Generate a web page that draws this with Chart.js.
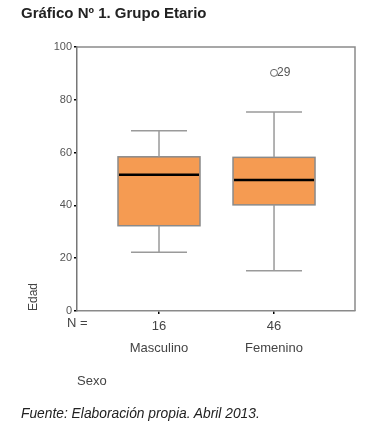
<!DOCTYPE html>
<html>
<head>
<meta charset="utf-8">
<script src="https://cdn.jsdelivr.net/npm/chart.js@4/dist/chart.umd.min.js"></script>
<style>
  html, body { margin: 0; padding: 0; background: #fff; }
  #wrap { position: relative; width: 378px; height: 427px; }
  #c { position: absolute; left: 0; top: 0; }
  #title { position: absolute; left: 21px; top: 4px; font: bold 15px "Liberation Sans", Arial, sans-serif; color: #222; white-space: nowrap; }
  #foot { position: absolute; left: 21px; top: 406px; font: italic 13.8px "Liberation Sans", Arial, sans-serif; color: #222; white-space: nowrap; }
</style>
</head>
<body>
<div id="wrap">
  <canvas id="c" width="378" height="427"></canvas>
  <div id="title">Gráfico Nº 1. Grupo Etario</div>
  <div id="foot">Fuente: Elaboración propia. Abril 2013.</div>
</div>
<script>
const categories = ['Masculino', 'Femenino'];
const counts = ['16', '46'];
const whiskerLow = [22.3, 15.2];
const q1 = [32.3, 40.2];
const median = [51.6, 49.6];
const q3 = [58.4, 58.2];
const whiskerHigh = [68.3, 75.4];
const outlierCat = [2];
const outlierVal = [90.2];
const outlierLabel = ['29'];
const yTicks = [0, 20, 40, 60, 80, 100];

const FONT = '"Liberation Sans", Arial, sans-serif';
const GRAY = '#8a8a8a';

const boxPlugin = {
  id: 'boxExtras',
  afterDatasetsDraw(chart) {
    const ctx = chart.ctx;
    const xs = chart.scales.x, ys = chart.scales.y;
    const ca = chart.chartArea;
    ctx.save();
    // frame top & right
    ctx.strokeStyle = GRAY;
    ctx.lineWidth = 1.5;
    ctx.beginPath();
    ctx.moveTo(ca.left, ca.top);
    ctx.lineTo(ca.right, ca.top);
    ctx.lineTo(ca.right, ca.bottom);
    ctx.stroke();
    const boxHalf = 41, capHalf = 28;
    categories.forEach((c, i) => {
      const x = xs.getPixelForValue(i + 1);
      const yl = ys.getPixelForValue(whiskerLow[i]);
      const yq1 = ys.getPixelForValue(q1[i]);
      const yq3 = ys.getPixelForValue(q3[i]);
      const yh = ys.getPixelForValue(whiskerHigh[i]);
      const ym = ys.getPixelForValue(median[i]);
      // box
      ctx.fillStyle = '#f59b52';
      ctx.fillRect(x - boxHalf, yq3, boxHalf * 2, yq1 - yq3);
      ctx.strokeStyle = GRAY;
      ctx.lineWidth = 1.5;
      ctx.strokeRect(x - boxHalf, yq3, boxHalf * 2, yq1 - yq3);
      // whiskers
      ctx.strokeStyle = '#9a9a9a';
      ctx.lineWidth = 1.5;
      ctx.beginPath();
      ctx.moveTo(x, yq3); ctx.lineTo(x, yh);
      ctx.moveTo(x - capHalf, yh); ctx.lineTo(x + capHalf, yh);
      ctx.moveTo(x, yq1); ctx.lineTo(x, yl);
      ctx.moveTo(x - capHalf, yl); ctx.lineTo(x + capHalf, yl);
      ctx.stroke();
      // median
      ctx.strokeStyle = '#000';
      ctx.lineWidth = 2.5;
      ctx.beginPath();
      ctx.moveTo(x - boxHalf + 1, ym); ctx.lineTo(x + boxHalf - 1, ym);
      ctx.stroke();
    });
    // outlier labels
    ctx.fillStyle = '#555';
    ctx.font = '12px ' + FONT;
    ctx.textBaseline = 'middle';
    ctx.textAlign = 'left';
    outlierVal.forEach((v, i) => {
      const x = xs.getPixelForValue(outlierCat[i]);
      const y = ys.getPixelForValue(v);
      ctx.fillText(outlierLabel[i], x + 3, y);
    });
    // "N =" label
    ctx.fillStyle = '#444';
    ctx.font = '13px ' + FONT;
    ctx.textBaseline = 'middle';
    ctx.textAlign = 'left';
    ctx.fillText('N =', 67, ca.bottom + 12);
    ctx.restore();
  }
};

new Chart(document.getElementById('c'), {
  type: 'scatter',
  data: {
    datasets: [
      {
        data: outlierVal.map((v, i) => ({ x: outlierCat[i], y: v })),
        pointStyle: 'circle',
        pointRadius: 3.5,
        pointBackgroundColor: 'rgba(0,0,0,0)',
        pointBorderColor: '#666',
        pointBorderWidth: 1
      }
    ]
  },
  options: {
    responsive: false,
    animation: false,
    events: [],
    layout: { padding: { left: 0, top: 47, right: 23, bottom: 0 } },
    plugins: { legend: { display: false }, tooltip: { enabled: false }, title: { display: false } },
    scales: {
      x: {
        type: 'linear',
        min: 0.287,
        max: 2.704,
        offset: false,
        afterBuildTicks(scale) { scale.ticks = categories.map((c, i) => ({ value: i + 1 })); },
        afterFit(scale) { scale.height = 427 - 47 - 264; },
        grid: { drawOnChartArea: false, drawTicks: true, tickLength: 3, color: '#000', lineWidth: 1.5, offset: false },
        border: { color: GRAY, width: 1.5 },
        ticks: {
          autoSkip: false,
          maxRotation: 0,
          padding: 1,
          color: '#444',
          font: { family: FONT, size: 13, lineHeight: 1.7 },
          callback(v) { const i = Math.round(v) - 1; return [counts[i], categories[i]]; }
        },
        title: {
          display: true,
          text: 'Sexo',
          align: 'start',
          color: '#444',
          font: { family: FONT, size: 13 },
          padding: { top: 0, bottom: 38 }
        }
      },
      y: {
        min: 0,
        max: 100,
        afterBuildTicks(scale) { scale.ticks = yTicks.map(v => ({ value: v })); },
        afterFit(scale) { scale.width = 77; },
        grid: { drawOnChartArea: false, drawTicks: true, tickLength: 3, color: '#000', lineWidth: 1.5 },
        border: { color: '#777', width: 1.5 },
        ticks: { padding: 2, color: '#555', font: { family: FONT, size: 11 } },
        title: {
          display: true,
          text: 'Edad',
          align: 'start',
          color: '#444',
          font: { family: FONT, size: 12 },
          padding: { top: 26, bottom: 0 }
        }
      }
    }
  },
  plugins: [boxPlugin]
});
</script>
</body>
</html>
